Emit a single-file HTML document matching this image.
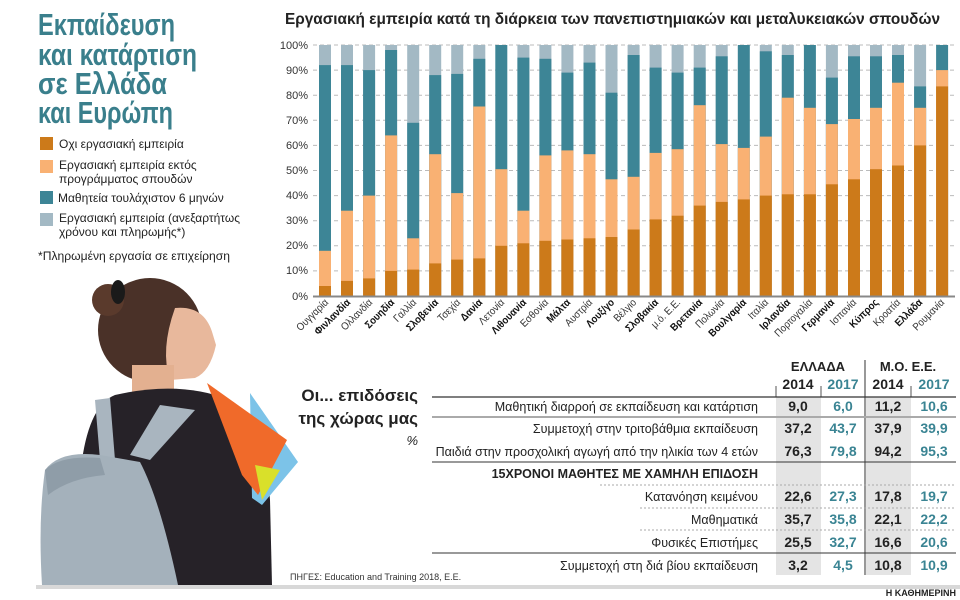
<!DOCTYPE html>
<html><head><meta charset="utf-8">
<style>
body{margin:0;width:960px;height:600px;background:#fff;overflow:hidden;font-family:"Liberation Sans Narrow","Liberation Sans",sans-serif;}
svg{position:absolute;left:0;top:0}
.L{fill:#a3b9c4}.T{fill:#3d8596}.O{fill:#f9b173}.D{fill:#cc7a1a}
.ax{font-size:11px;fill:#333;text-anchor:end}
.cl{font-size:10.5px;fill:#333;text-anchor:end}
.b{font-weight:bold;fill:#111}
.rl{font-size:12.5px;fill:#222;text-anchor:end}
.v{font-size:14px;font-weight:bold;text-anchor:middle;fill:#222}
.v2{font-size:14px;font-weight:bold;text-anchor:middle;fill:#3a8493}
</style></head><body>
<svg width="960" height="600" viewBox="0 0 960 600">
<g fill="#3a7f8c" font-weight="bold" font-size="31">
<text x="38" y="35" textLength="137" lengthAdjust="spacingAndGlyphs">Εκπαίδευση</text>
<text x="38" y="65" textLength="159" lengthAdjust="spacingAndGlyphs">και κατάρτιση</text>
<text x="38" y="94" textLength="129" lengthAdjust="spacingAndGlyphs">σε Ελλάδα</text>
<text x="38" y="123" textLength="135" lengthAdjust="spacingAndGlyphs">και Ευρώπη</text>
</g>
<rect x="40" y="137" width="13" height="13" class="D"/>
<rect x="40" y="160" width="13" height="13" class="O"/>
<rect x="40" y="191" width="13" height="13" class="T"/>
<rect x="40" y="213" width="13" height="13" class="L"/>
<g font-size="12" fill="#222">
<text x="59" y="148">Οχι εργασιακή εμπειρία</text>
<text x="59" y="169">Εργασιακή εμπειρία εκτός</text>
<text x="59" y="183">προγράμματος σπουδών</text>
<text x="58" y="202">Μαθητεία τουλάχιστον 6 μηνών</text>
<text x="59" y="222" textLength="181" lengthAdjust="spacingAndGlyphs">Εργασιακή εμπειρία (ανεξαρτήτως</text>
<text x="59" y="236">χρόνου και πληρωμής*)</text>
<text x="38" y="260" textLength="192" lengthAdjust="spacingAndGlyphs">*Πληρωμένη εργασία σε επιχείρηση</text>
</g>
<text x="285" y="24" font-size="16" font-weight="bold" fill="#222" textLength="655" lengthAdjust="spacingAndGlyphs">Εργασιακή εμπειρία κατά τη διάρκεια των πανεπιστημιακών και μεταλυκειακών σπουδών</text>
<g stroke="#bbb" stroke-dasharray="4,3" stroke-width="1">
<line x1="313" x2="955" y1="45" y2="45"/><line x1="313" x2="955" y1="70.1" y2="70.1"/><line x1="313" x2="955" y1="95.2" y2="95.2"/><line x1="313" x2="955" y1="120.3" y2="120.3"/><line x1="313" x2="955" y1="145.4" y2="145.4"/><line x1="313" x2="955" y1="170.5" y2="170.5"/><line x1="313" x2="955" y1="195.6" y2="195.6"/><line x1="313" x2="955" y1="220.7" y2="220.7"/><line x1="313" x2="955" y1="245.8" y2="245.8"/><line x1="313" x2="955" y1="270.9" y2="270.9"/>
</g>
<g class="ax">
<text x="308" y="49">100%</text><text x="308" y="74">90%</text><text x="308" y="99">80%</text><text x="308" y="124">70%</text><text x="308" y="149">60%</text><text x="308" y="174">50%</text><text x="308" y="199">40%</text><text x="308" y="224">30%</text><text x="308" y="249">20%</text><text x="308" y="274">10%</text><text x="308" y="300">0%</text>
</g>
<g>
<g transform="translate(319,0)"><rect width="12" y="45" height="251" class="L"/><rect width="12" y="65.1" height="230.9" class="T"/><rect width="12" y="250.8" height="45.2" class="O"/><rect width="12" y="286" height="10" class="D"/></g>
<g transform="translate(341,0)"><rect width="12" y="45" height="251" class="L"/><rect width="12" y="65.1" height="230.9" class="T"/><rect width="12" y="210.7" height="85.3" class="O"/><rect width="12" y="280.9" height="15.1" class="D"/></g>
<g transform="translate(363.1,0)"><rect width="12" y="45" height="251" class="L"/><rect width="12" y="70.1" height="225.9" class="T"/><rect width="12" y="195.6" height="100.4" class="O"/><rect width="12" y="278.4" height="17.6" class="D"/></g>
<g transform="translate(385.1,0)"><rect width="12" y="45" height="251" class="L"/><rect width="12" y="50" height="246" class="T"/><rect width="12" y="135.4" height="160.6" class="O"/><rect width="12" y="270.9" height="25.1" class="D"/></g>
<g transform="translate(407.2,0)"><rect width="12" y="45" height="251" class="L"/><rect width="12" y="122.8" height="173.2" class="T"/><rect width="12" y="238.3" height="57.7" class="O"/><rect width="12" y="269.6" height="26.4" class="D"/></g>
<g transform="translate(429.2,0)"><rect width="12" y="45" height="251" class="L"/><rect width="12" y="75.1" height="220.9" class="T"/><rect width="12" y="154.2" height="141.8" class="O"/><rect width="12" y="263.4" height="32.6" class="D"/></g>
<g transform="translate(451.2,0)"><rect width="12" y="45" height="251" class="L"/><rect width="12" y="73.9" height="222.1" class="T"/><rect width="12" y="193.1" height="102.9" class="O"/><rect width="12" y="259.6" height="36.4" class="D"/></g>
<g transform="translate(473.3,0)"><rect width="12" y="45" height="251" class="L"/><rect width="12" y="58.8" height="237.2" class="T"/><rect width="12" y="106.5" height="189.5" class="O"/><rect width="12" y="258.4" height="37.6" class="D"/></g>
<g transform="translate(495.3,0)"><rect width="12" y="45" height="251" class="T"/><rect width="12" y="169.2" height="126.8" class="O"/><rect width="12" y="245.8" height="50.2" class="D"/></g>
<g transform="translate(517.4,0)"><rect width="12" y="45" height="251" class="L"/><rect width="12" y="57.6" height="238.4" class="T"/><rect width="12" y="210.7" height="85.3" class="O"/><rect width="12" y="243.3" height="52.7" class="D"/></g>
<g transform="translate(539.4,0)"><rect width="12" y="45" height="251" class="L"/><rect width="12" y="58.8" height="237.2" class="T"/><rect width="12" y="155.4" height="140.6" class="O"/><rect width="12" y="240.8" height="55.2" class="D"/></g>
<g transform="translate(561.4,0)"><rect width="12" y="45" height="251" class="L"/><rect width="12" y="72.6" height="223.4" class="T"/><rect width="12" y="150.4" height="145.6" class="O"/><rect width="12" y="239.5" height="56.5" class="D"/></g>
<g transform="translate(583.5,0)"><rect width="12" y="45" height="251" class="L"/><rect width="12" y="62.6" height="233.4" class="T"/><rect width="12" y="154.2" height="141.8" class="O"/><rect width="12" y="238.3" height="57.7" class="D"/></g>
<g transform="translate(605.5,0)"><rect width="12" y="45" height="251" class="L"/><rect width="12" y="92.7" height="203.3" class="T"/><rect width="12" y="179.3" height="116.7" class="O"/><rect width="12" y="237" height="59" class="D"/></g>
<g transform="translate(627.6,0)"><rect width="12" y="45" height="251" class="L"/><rect width="12" y="55" height="241" class="T"/><rect width="12" y="176.8" height="119.2" class="O"/><rect width="12" y="229.5" height="66.5" class="D"/></g>
<g transform="translate(649.6,0)"><rect width="12" y="45" height="251" class="L"/><rect width="12" y="67.6" height="228.4" class="T"/><rect width="12" y="152.9" height="143.1" class="O"/><rect width="12" y="219.4" height="76.6" class="D"/></g>
<g transform="translate(671.6,0)"><rect width="12" y="45" height="251" class="L"/><rect width="12" y="72.6" height="223.4" class="T"/><rect width="12" y="149.2" height="146.8" class="O"/><rect width="12" y="215.7" height="80.3" class="D"/></g>
<g transform="translate(693.7,0)"><rect width="12" y="45" height="251" class="L"/><rect width="12" y="67.6" height="228.4" class="T"/><rect width="12" y="105.2" height="190.8" class="O"/><rect width="12" y="205.6" height="90.4" class="D"/></g>
<g transform="translate(715.7,0)"><rect width="12" y="45" height="251" class="L"/><rect width="12" y="56.3" height="239.7" class="T"/><rect width="12" y="144.1" height="151.9" class="O"/><rect width="12" y="201.9" height="94.1" class="D"/></g>
<g transform="translate(737.8,0)"><rect width="12" y="45" height="251" class="T"/><rect width="12" y="147.9" height="148.1" class="O"/><rect width="12" y="199.4" height="96.6" class="D"/></g>
<g transform="translate(759.8,0)"><rect width="12" y="45" height="251" class="L"/><rect width="12" y="51.3" height="244.7" class="T"/><rect width="12" y="136.6" height="159.4" class="O"/><rect width="12" y="195.6" height="100.4" class="D"/></g>
<g transform="translate(781.8,0)"><rect width="12" y="45" height="251" class="L"/><rect width="12" y="55" height="241" class="T"/><rect width="12" y="97.7" height="198.3" class="O"/><rect width="12" y="194.3" height="101.7" class="D"/></g>
<g transform="translate(803.9,0)"><rect width="12" y="45" height="251" class="T"/><rect width="12" y="107.8" height="188.2" class="O"/><rect width="12" y="194.3" height="101.7" class="D"/></g>
<g transform="translate(825.9,0)"><rect width="12" y="45" height="251" class="L"/><rect width="12" y="77.6" height="218.4" class="T"/><rect width="12" y="124.1" height="171.9" class="O"/><rect width="12" y="184.3" height="111.7" class="D"/></g>
<g transform="translate(848,0)"><rect width="12" y="45" height="251" class="L"/><rect width="12" y="56.3" height="239.7" class="T"/><rect width="12" y="119" height="177" class="O"/><rect width="12" y="179.3" height="116.7" class="D"/></g>
<g transform="translate(870,0)"><rect width="12" y="45" height="251" class="L"/><rect width="12" y="56.3" height="239.7" class="T"/><rect width="12" y="107.8" height="188.2" class="O"/><rect width="12" y="169.2" height="126.8" class="D"/></g>
<g transform="translate(892,0)"><rect width="12" y="45" height="251" class="L"/><rect width="12" y="55" height="241" class="T"/><rect width="12" y="82.7" height="213.3" class="O"/><rect width="12" y="165.5" height="130.5" class="D"/></g>
<g transform="translate(914.1,0)"><rect width="12" y="45" height="251" class="L"/><rect width="12" y="86.4" height="209.6" class="T"/><rect width="12" y="107.8" height="188.2" class="O"/><rect width="12" y="145.4" height="150.6" class="D"/></g>
<g transform="translate(936.1,0)"><rect width="12" y="45" height="251" class="T"/><rect width="12" y="70.1" height="225.9" class="O"/><rect width="12" y="86.4" height="209.6" class="D"/></g>
</g>
<line x1="313" x2="955" y1="296.5" y2="296.5" stroke="#888" stroke-width="2"/>
<g class="cl">
<text transform="translate(329,303) rotate(-45) scale(0.9,1)">Ουγγαρία</text>
<text class="b" transform="translate(351,303) rotate(-45) scale(0.9,1)">Φινλανδία</text>
<text transform="translate(373,303) rotate(-45) scale(0.9,1)">Ολλανδία</text>
<text class="b" transform="translate(395,303) rotate(-45) scale(0.9,1)">Σουηδία</text>
<text transform="translate(417,303) rotate(-45) scale(0.9,1)">Γαλλία</text>
<text class="b" transform="translate(439,303) rotate(-45) scale(0.9,1)">Σλοβενία</text>
<text transform="translate(461,303) rotate(-45) scale(0.9,1)">Τσεχία</text>
<text class="b" transform="translate(483,303) rotate(-45) scale(0.9,1)">Δανία</text>
<text transform="translate(505,303) rotate(-45) scale(0.9,1)">Λετονία</text>
<text class="b" transform="translate(527,303) rotate(-45) scale(0.9,1)">Λιθουανία</text>
<text transform="translate(549,303) rotate(-45) scale(0.9,1)">Εσθονία</text>
<text class="b" transform="translate(571,303) rotate(-45) scale(0.9,1)">Μάλτα</text>
<text transform="translate(593,303) rotate(-45) scale(0.9,1)">Αυστρία</text>
<text class="b" transform="translate(615,303) rotate(-45) scale(0.9,1)">Λουξ/γο</text>
<text transform="translate(637,303) rotate(-45) scale(0.9,1)">Βέλγιο</text>
<text class="b" transform="translate(659,303) rotate(-45) scale(0.9,1)">Σλοβακία</text>
<text transform="translate(681,303) rotate(-45) scale(0.9,1)">μ.ό. Ε.Ε.</text>
<text class="b" transform="translate(703,303) rotate(-45) scale(0.9,1)">Βρετανία</text>
<text transform="translate(725,303) rotate(-45) scale(0.9,1)">Πολωνία</text>
<text class="b" transform="translate(747,303) rotate(-45) scale(0.9,1)">Βουλγαρία</text>
<text transform="translate(769,303) rotate(-45) scale(0.9,1)">Ιταλία</text>
<text class="b" transform="translate(791,303) rotate(-45) scale(0.9,1)">Ιρλανδία</text>
<text transform="translate(813,303) rotate(-45) scale(0.9,1)">Πορτογαλία</text>
<text class="b" transform="translate(835,303) rotate(-45) scale(0.9,1)">Γερμανία</text>
<text transform="translate(857,303) rotate(-45) scale(0.9,1)">Ισπανία</text>
<text class="b" transform="translate(879,303) rotate(-45) scale(0.9,1)">Κύπρος</text>
<text transform="translate(901,303) rotate(-45) scale(0.9,1)">Κροατία</text>
<text class="b" transform="translate(923,303) rotate(-45) scale(0.9,1)">Ελλάδα</text>
<text transform="translate(945,303) rotate(-45) scale(0.9,1)">Ρουμανία</text>
</g>
<g>
<ellipse cx="150" cy="330" rx="52" ry="52" fill="#4a3128"/>
<circle cx="108" cy="300" r="16" fill="#5a3a2c"/>
<ellipse cx="118" cy="292" rx="7" ry="12" fill="#1a1a1a"/>
<path d="M175 308 Q205 305 213 335 L216 345 Q210 372 195 378 L170 380 Q160 350 175 308Z" fill="#e8b89c"/>
<rect x="132" y="365" width="42" height="35" fill="#e3b090"/>
<path d="M115 395 Q180 380 230 400 Q265 420 270 500 L272 585 L78 585 L82 460 Q90 405 115 395Z" fill="#262228"/>
<path d="M250 393 L298 462 L262 505 L252 498Z" fill="#7cc3e8"/>
<path d="M207 383 L287 440 L258 495 L242 475 Z" fill="#f06a2a"/>
<path d="M255 465 L280 470 L262 500 Z" fill="#d9e02a"/>
<path d="M95 400 L110 398 L115 460 L100 460Z" fill="#a9b5bf"/>
<path d="M160 405 L195 410 L150 460 L130 455Z" fill="#a9b5bf"/>
<path d="M45 470 Q60 450 100 455 L140 462 Q160 500 178 585 L42 585 Q38 520 45 470Z" fill="#a4b1bb"/>
<path d="M45 470 Q60 455 100 458 L105 475 Q70 478 48 495Z" fill="#8f9da8"/>
</g>
<rect x="36" y="585" width="924" height="4" fill="#d8d8d8"/>
<g font-weight="bold" fill="#222">
<text x="418" y="401" font-size="17" text-anchor="end">Οι... επιδόσεις</text>
<text x="418" y="424" font-size="17" text-anchor="end">της χώρας μας</text>
</g>
<text x="418" y="445" font-size="13" text-anchor="end" fill="#222" font-style="italic">%</text>
<rect x="776" y="397" width="45" height="178" fill="#e4e4e4"/>
<rect x="866" y="397" width="45" height="178" fill="#e4e4e4"/>
<line x1="865" x2="865" y1="360" y2="575" stroke="#555" stroke-width="1.2"/>
<line x1="821" x2="821" y1="386" y2="397" stroke="#555"/>
<line x1="911" x2="911" y1="386" y2="397" stroke="#555"/>
<line x1="776" x2="776" y1="386" y2="397" stroke="#555"/>
<text x="818" y="371" font-size="13" font-weight="bold" text-anchor="middle" fill="#222">ΕΛΛΑΔΑ</text>
<text x="908" y="371" font-size="13" font-weight="bold" text-anchor="middle" fill="#222">Μ.Ο. Ε.Ε.</text>
<text x="798" y="389" class="v" font-size="13">2014</text>
<text x="843" y="389" class="v2" font-size="13">2017</text>
<text x="888" y="389" class="v" font-size="13">2014</text>
<text x="934" y="389" class="v2" font-size="13">2017</text>
<line x1="432" x2="956" y1="397" y2="397" stroke="#333" stroke-width="1.2"/>
<line x1="432" x2="956" y1="417" y2="417" stroke="#aaa" stroke-width="2"/>
<line x1="432" x2="956" y1="462" y2="462" stroke="#333" stroke-width="1"/>
<g stroke="#aaa" stroke-dasharray="2,2"><line x1="600" x2="956" y1="485" y2="485"/><line x1="640" x2="956" y1="508" y2="508"/><line x1="640" x2="956" y1="530" y2="530"/></g>
<line x1="432" x2="956" y1="553" y2="553" stroke="#333" stroke-width="1"/>
<g class="rl">
<text x="758" y="411">Μαθητική διαρροή σε εκπαίδευση και κατάρτιση</text>
<text x="758" y="433">Συμμετοχή στην τριτοβάθμια εκπαίδευση</text>
<text x="758" y="456">Παιδιά στην προσχολική αγωγή από την ηλικία των 4 ετών</text>
<text x="758" y="478" font-weight="bold" fill="#222">15ΧΡΟΝΟΙ ΜΑΘΗΤΕΣ ΜΕ ΧΑΜΗΛΗ ΕΠΙΔΟΣΗ</text>
<text x="758" y="501">Κατανόηση κειμένου</text>
<text x="758" y="524">Μαθηματικά</text>
<text x="758" y="547">Φυσικές Επιστήμες</text>
<text x="758" y="570">Συμμετοχή στη διά βίου εκπαίδευση</text>
</g>
<g>
<text x="798" y="411" class="v">9,0</text><text x="843" y="411" class="v2">6,0</text><text x="888" y="411" class="v">11,2</text><text x="934" y="411" class="v2">10,6</text>
<text x="798" y="433" class="v">37,2</text><text x="843" y="433" class="v2">43,7</text><text x="888" y="433" class="v">37,9</text><text x="934" y="433" class="v2">39,9</text>
<text x="798" y="456" class="v">76,3</text><text x="843" y="456" class="v2">79,8</text><text x="888" y="456" class="v">94,2</text><text x="934" y="456" class="v2">95,3</text>
<text x="798" y="501" class="v">22,6</text><text x="843" y="501" class="v2">27,3</text><text x="888" y="501" class="v">17,8</text><text x="934" y="501" class="v2">19,7</text>
<text x="798" y="524" class="v">35,7</text><text x="843" y="524" class="v2">35,8</text><text x="888" y="524" class="v">22,1</text><text x="934" y="524" class="v2">22,2</text>
<text x="798" y="547" class="v">25,5</text><text x="843" y="547" class="v2">32,7</text><text x="888" y="547" class="v">16,6</text><text x="934" y="547" class="v2">20,6</text>
<text x="798" y="570" class="v">3,2</text><text x="843" y="570" class="v2">4,5</text><text x="888" y="570" class="v">10,8</text><text x="934" y="570" class="v2">10,9</text>
</g>
<text x="290" y="580" font-size="9" fill="#333">ΠΗΓΕΣ: Education and Training 2018, Ε.Ε.</text>
<text x="956" y="596" font-size="9" font-weight="bold" text-anchor="end" fill="#222">Η ΚΑΘΗΜΕΡΙΝΗ</text>
</svg>
</body></html>
